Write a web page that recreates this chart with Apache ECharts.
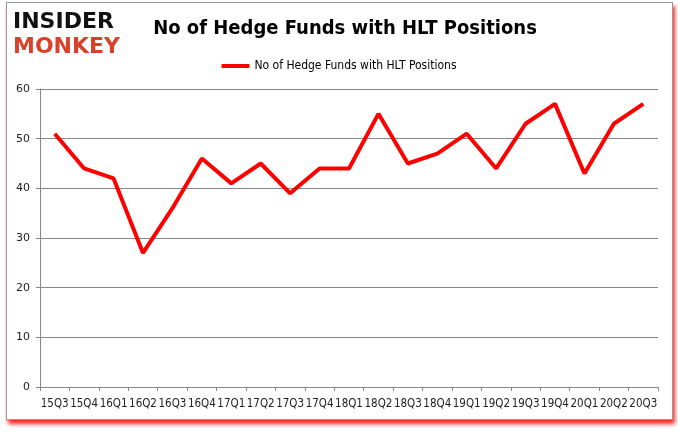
<!DOCTYPE html>
<html><head><meta charset="utf-8">
<script src="https://cdn.jsdelivr.net/npm/echarts@6/dist/echarts.min.js"></script>
<style>
html,body{margin:0;padding:0;background:#fff;}
#frame{position:absolute;left:6px;top:2px;width:665px;height:416px;border:1px solid #999;box-shadow:2px 4px 4px rgba(255,0,0,0.85);background:#fff;}
#c{position:absolute;left:0;top:0;width:678px;height:431px;}
</style></head><body>
<div id="frame"></div>
<div id="c"></div>
<script>
const categories = ["15Q3","15Q4","16Q1","16Q2","16Q3","16Q4","17Q1","17Q2","17Q3","17Q4","18Q1","18Q2","18Q3","18Q4","19Q1","19Q2","19Q3","19Q4","20Q1","20Q2","20Q3"];
const funds = [51,44,42,27,36,46,41,45,39,44,44,55,45,47,51,44,53,57,43,53,57];
const yTicks = [0,10,20,30,40,50,60];
const seriesName = "No of Hedge Funds with HLT Positions";
const titleText = "No of Hedge Funds with HLT Positions";

const chart = echarts.init(document.getElementById('c'), null, {renderer:'canvas'});
const narrow = "'Liberation Sans Narrow','DejaVu Sans Condensed','Liberation Sans',sans-serif";
chart.setOption({
  animation:false,
  backgroundColor:'transparent',
  title:[
    {text:titleText,left:340,top:14,textAlign:'center',textStyle:{fontFamily:narrow,fontSize:20,fontWeight:'bold',color:'#000'}},
    {text:'INSIDER',left:8,top:6,textStyle:{fontFamily:"'DejaVu Sans'",fontSize:22,fontWeight:'900',color:'#111'}},
    {text:'MONKEY',left:8,top:31,textStyle:{fontFamily:"'DejaVu Sans'",fontSize:22,fontWeight:'900',color:'#d9412b'}}
  ],
  legend:{data:[seriesName],top:55,left:'center',itemWidth:28,itemHeight:4,itemGap:2,icon:'rect',
    textStyle:{fontFamily:narrow,fontSize:12,color:'#000'}},
  grid:{left:40,right:20,top:89,bottom:44},
  xAxis:{type:'category',data:categories,boundaryGap:true,
    axisLine:{lineStyle:{color:'#888',width:1}},
    axisTick:{show:true,interval:0,length:4,lineStyle:{color:'#888'}},
    axisLabel:{interval:0,margin:11,fontFamily:"'DejaVu Sans Condensed','Liberation Sans',sans-serif",fontSize:11.5,color:'#222'}},
  yAxis:{type:'value',min:yTicks[0],max:yTicks[yTicks.length-1],interval:10,
    axisLine:{show:true,lineStyle:{color:'#888'}},
    axisTick:{show:true,length:4,lineStyle:{color:'#888'}},
    splitLine:{lineStyle:{color:'#888',width:1}},
    axisLabel:{margin:10,fontFamily:"'DejaVu Sans','Liberation Sans',sans-serif",fontSize:11,color:'#222'}},
  series:[{name:seriesName,type:'line',data:funds,showSymbol:false,symbol:'none',
    lineStyle:{color:'#ff0000',width:4},itemStyle:{color:'#ff0000'}}]
});
</script>
</body></html>
